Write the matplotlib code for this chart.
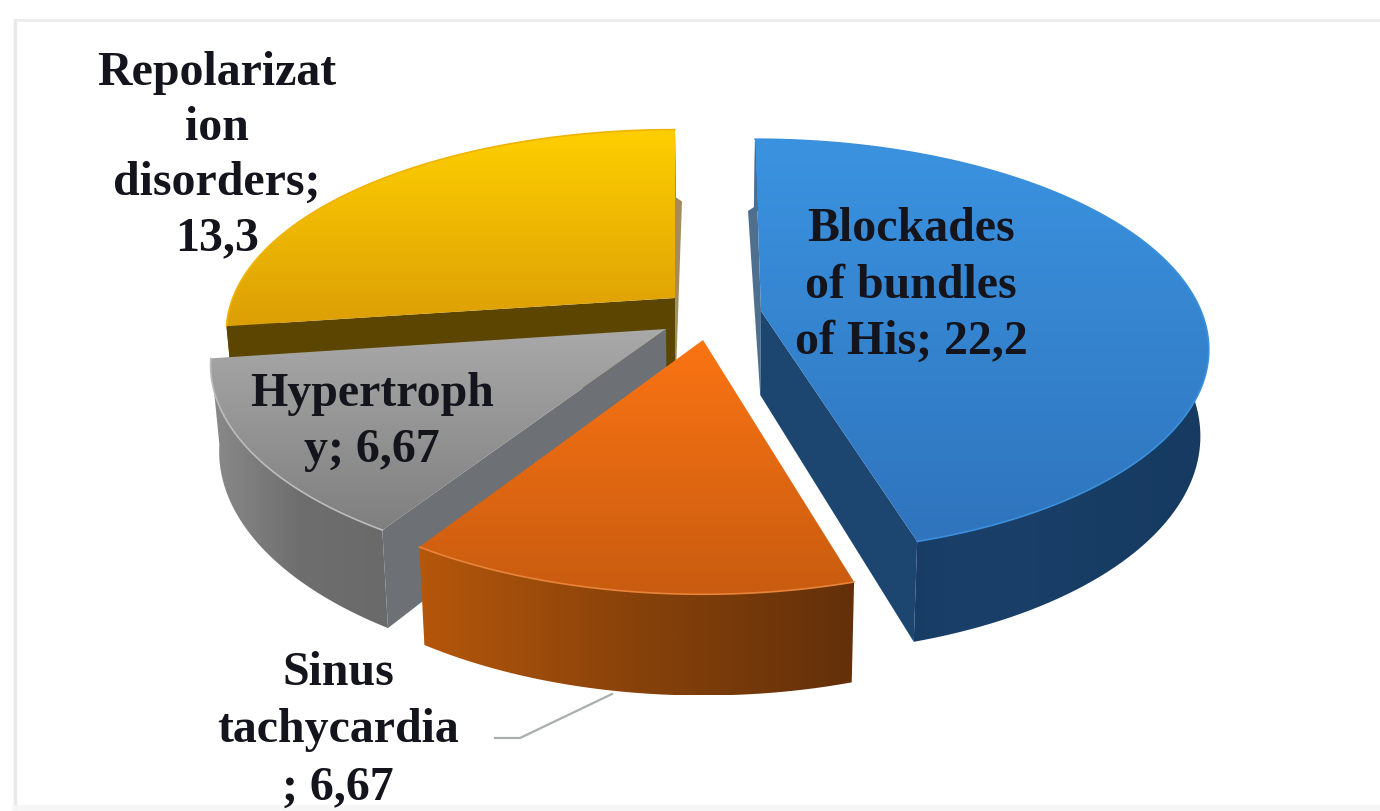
import numpy as np
import matplotlib
matplotlib.use("Agg")
import matplotlib.pyplot as plt
from matplotlib.patches import Polygon
from matplotlib.colors import LinearSegmentedColormap

# data
categories = ["Blockades of bundles of His", "Sinus tachycardia", "Hypertrophy", "Repolarization disorders"]
values = [22.2, 6.67, 6.67, 13.3]
label_lines = [
    ["Blockades", "of bundles", "of His; 22,2"],
    ["Sinus", "tachycardia", "; 6,67"],
    ["Hypertroph", "y; 6,67"],
    ["Repolarizat", "ion", "disorders;", "13,3"],
]

# layout / style
W, H = 1380, 811
apex = [(761, 311), (703, 340), (666, 329), (675, 298)]
x_scale = [1.0, 1.02, 1.02, 1.005]
y_scale = [1.0, 1.05, 1.02, 0.98]
x_skew = [0.035, 0.0, 0.0, 0.0]
label_xy = [(911, 229, 56.5), (338, 673, 57.5), (372, 394, 56), (217, 73, 55)]
AX, BY, PERSP, DEPTH = 440.0, 201.0, 0.17, 84.0
top_cols = [("#3b93e0", "#2f74bd"), ("#fb7413", "#c95c10"), ("#a9a9a9", "#7f7f7f"), ("#ffcf00", "#dc9f06")]
wall_cols = [("#14355a", "#1a406a", "#163a60"), ("#b5570c", "#87420a", "#63300a"),
             ("#8a8a8a", "#6e6e6e", "#6a6a6a"), ("#5a4300", "#5a4300", "#5a4300")]
inner_cols = ["#1c4670", None, "#6d7175", "#5c4500"]
sliver_cols = {0: "#4f6f8e", 3: "#a08f5a"}
rim_cols = ["#3a90dc", "#e8843a", "#bcbcbc", "#f0b400"]


def project(i, theta, z=0.0, r=1.0):
    a = apex[i]
    X, Y = r * np.sin(theta), r * np.cos(theta)
    s = 1.0 / (1.0 + PERSP * Y)
    dy = -BY * Y * s * y_scale[i]
    xs = a[0] + AX * X * s * x_scale[i] + x_skew[i] * dy
    ys = a[1] + dy + DEPTH * z * s
    xs = xs + (715 - xs) * 0.017 * z
    return xs, ys


def gradient_poly(ax, pts, stops, horizontal=False, zorder=1):
    pts = np.asarray(pts)
    x0, x1, y0, y1 = pts[:, 0].min(), pts[:, 0].max(), pts[:, 1].min(), pts[:, 1].max()
    cmap = LinearSegmentedColormap.from_list("g", list(stops))
    g = np.linspace(0, 1, 256)
    g = g[None, :] if horizontal else g[:, None]
    im = ax.imshow(g, extent=(x0, x1, y1, y0), cmap=cmap, aspect="auto", origin="upper",
                   zorder=zorder, interpolation="bilinear")
    patch = Polygon(pts, closed=True, transform=ax.transData, fc="none", ec="none")
    ax.add_patch(patch)
    im.set_clip_path(patch)


fig = plt.figure(figsize=(W / 100, H / 100), dpi=100, facecolor="white")
ax = fig.add_axes([0, 0, 1, 1])

# wedge angles from the values, clockwise from 12 o'clock
edges = np.concatenate([[0], np.cumsum(values)]) / np.sum(values) * 2 * np.pi

draw_order = [3, 2, 0, 1]
for n, i in enumerate(draw_order):
    z0 = 2 + n * 5
    a = apex[i]
    t = np.linspace(edges[i], edges[i + 1], 120)
    tx, ty = project(i, t)
    bx, by = project(i, t, z=1.0)
    ax_b = project(i, 0.0, z=1.0, r=0.0)

    # outer wall
    wall = np.vstack([np.c_[tx, ty], np.c_[bx, by][::-1]])
    gradient_poly(ax, wall, wall_cols[i], horizontal=True, zorder=z0 + 1)

    # narrow visible part of the 12 o'clock side wall (blue and yellow)
    if i in sliver_cols:
        sign = -1 if i == 0 else 1
        r0x, r0y = project(i, 0.0)
        rx, ry = project(i, 0.0, z=1.0)
        ax.add_patch(Polygon([a, (r0x, r0y), (r0x + sign * 1, ry - 4), (r0x + sign * 7, ry), ax_b],
                             closed=True, fc=sliver_cols[i], ec="none", zorder=z0 + 1.5))

    # visible inner wall
    if inner_cols[i] is not None:
        e = edges[i + 1] if i == 0 else edges[i]
        ex, ey = project(i, e)
        fx, fy = project(i, e, z=1.0)
        ax.add_patch(Polygon([a, (ex, ey), (fx, fy), ax_b], closed=True,
                             fc=inner_cols[i], ec="none", zorder=z0 + 2))

    # top face
    top = np.vstack([[a], np.c_[tx, ty]])
    gradient_poly(ax, top, top_cols[i], zorder=z0 + 3)
    ax.plot(tx, ty, color=rim_cols[i], lw=1.2, zorder=z0 + 4, solid_capstyle="round")

# chart frame
ax.plot([15, 15], [811, 20], color="#e9e9e9", lw=2.5, zorder=1)
ax.plot([15, 1380], [20, 20], color="#ececec", lw=2.0, zorder=1)
ax.plot([15, 1380], [808, 808], color="#f6f6f6", lw=4, zorder=1)

# leader line of the sinus tachycardia label
ax.plot([495, 520, 612], [738, 738, 694], color="#a9aeae", lw=1.6, zorder=1.5)

# labels
for lines, (lx, ly, step) in zip(label_lines, label_xy):
    for k, line in enumerate(lines):
        ax.text(lx, ly + k * step, line, ha="center", va="center", fontsize=34.5,
                family="Liberation Serif", fontweight="bold", color="#14141c", zorder=60)

ax.set_xlim(0, W)
ax.set_ylim(H, 0)
ax.axis("off")
fig.savefig("out.png", dpi=100, facecolor="white")
